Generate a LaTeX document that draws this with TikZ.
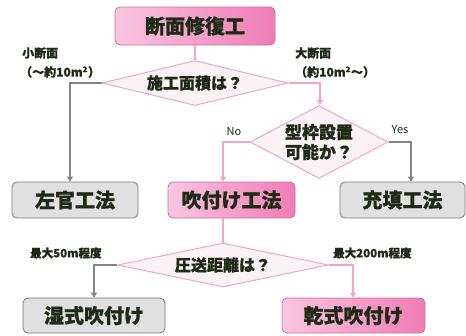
\documentclass[tikz,border=0pt]{standalone}
\usepackage{fontspec}
\setmainfont{Noto Sans CJK JP}[BoldFeatures={FakeBold=0.8}]
\usetikzlibrary{shapes.geometric,arrows.meta,calc}
\definecolor{txt}{HTML}{1E2A16}
\definecolor{pinkL}{HTML}{F9C6DF}
\definecolor{pinkR}{HTML}{F07CB6}
\definecolor{pinkB}{HTML}{C8709C}
\definecolor{pinkLine}{HTML}{F0A6CA}
\definecolor{greyFill}{HTML}{E0E0E0}
\definecolor{greyB}{HTML}{7A7A7A}
\definecolor{greyLine}{HTML}{858585}
\definecolor{diaFill}{HTML}{FBF2F6}
\tikzset{
  pinkbox/.style={rounded corners=5pt, draw=pinkB, line width=0.8pt, left color=pinkL, right color=pinkR, text=txt, font=\bfseries\fontsize{20}{22}\selectfont, inner sep=0pt},
  greybox/.style={rounded corners=5pt, draw=greyB, line width=0.8pt, fill=greyFill, text=txt, font=\bfseries\fontsize{20}{22}\selectfont, inner sep=0pt},
  decision/.style={diamond, draw=pinkLine, line width=1pt, fill=diaFill, text=txt, inner sep=0pt, align=center, font=\bfseries\fontsize{16}{19}\selectfont},
  pinkarrow/.style={draw=pinkLine, line width=1.2pt, -{Triangle[length=5pt,width=6pt]}},
  greyarrow/.style={draw=greyLine, line width=1.2pt, -{Triangle[length=5pt,width=6pt]}},
  pinkline/.style={draw=pinkLine, line width=1.2pt},
  lbl/.style={text=txt, font=\bfseries\fontsize{12}{13}\selectfont, inner sep=0pt, anchor=west},
  yn/.style={text=txt, font=\fontsize{11}{12}\selectfont, inner sep=0pt}
}
\begin{document}
\begin{tikzpicture}[x=1pt,y=-1pt]
\useasboundingbox (0,0) rectangle (466,335);
% nodes
\node[pinkbox, minimum width=160pt, minimum height=38pt] (top) at (195,26) {断面修復工};
\node[decision, minimum width=186pt, minimum height=45pt, aspect=4] (d1) at (195,83) {施工面積は？};
\node[decision, minimum width=138pt, minimum height=71pt, aspect=1.85, font=\bfseries\fontsize{17}{20}\selectfont] (d2) at (319,142) {型枠設置\\可能か？};
\node[greybox, minimum width=126pt, minimum height=36pt] (sakan) at (75,200) {左官工法};
\node[pinkbox, minimum width=127pt, minimum height=36pt] (fuki) at (231.5,200) {吹付け工法};
\node[greybox, minimum width=125pt, minimum height=36pt] (juten) at (402.5,200) {充填工法};
\node[decision, minimum width=211pt, minimum height=44pt, aspect=4.8] (d3) at (223,265) {圧送距離は？};
\node[greybox, minimum width=142pt, minimum height=35pt] (shitsu) at (94,315.5) {湿式吹付け};
\node[pinkbox, minimum width=143pt, minimum height=35pt] (kan) at (353.5,315.5) {乾式吹付け};
% labels
\node[lbl] (l1) at (22,53) {小断面};
\node[lbl] (l2) at (20,72) {（～約10m\textsuperscript{2}）};
\node[lbl] (l3) at (295,53) {大断面};
\node[lbl] (l4) at (295,72) {（約10m\textsuperscript{2}～）};
\node[lbl, font=\bfseries\fontsize{11.5}{13}\selectfont] (l5) at (30,253) {最大50m程度};
\node[lbl, font=\bfseries\fontsize{11.5}{13}\selectfont] (l6) at (333,253) {最大200m程度};
\node[yn] (no) at (234,132) {No};
\node[yn] (yes) at (400,130) {Yes};
% connectors
\coordinate (s1) at (70,0);
\coordinate (s2) at (320,0);
\coordinate (s3) at (223,0);
\coordinate (s4) at (411,0);
\coordinate (s5) at (94,0);
\coordinate (s6) at (353,0);
\draw[pinkline] (top.south) -- (d1.north);
\draw[greyarrow] (d1.west) -| (s1 |- sakan.north);
\draw[pinkarrow] (d1.east) -| (s2 |- d2.north);
\draw[pinkarrow] (d2.west) -| (s3 |- fuki.north);
\draw[greyarrow] (d2.east) -| (s4 |- juten.north);
\draw[pinkline] (s3 |- fuki.south) -- (d3.north);
\draw[greyarrow] (d3.west) -| (s5 |- shitsu.north);
\draw[pinkarrow] (d3.east) -| (s6 |- kan.north);
\end{tikzpicture}
\end{document}
